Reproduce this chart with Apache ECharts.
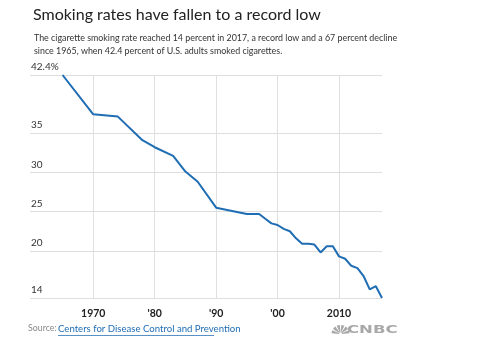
<!DOCTYPE html>
<html>
<head>
<meta charset="utf-8">
<script src="https://cdn.jsdelivr.net/npm/echarts@6/dist/echarts.min.js"></script>
<style>
  html, body { margin: 0; padding: 0; background: #fff; }
  #chart { width: 498px; height: 344px; }
</style>
</head>
<body>
<div id="chart"></div>
<script>
// Share of U.S. adults who smoke cigarettes, by survey year
const years = [1965, 1970, 1974, 1978, 1980, 1983, 1985, 1987, 1990, 1995, 1997, 1998, 1999, 2000,
               2001, 2002, 2003, 2004, 2005, 2006, 2007, 2008, 2009, 2010, 2011, 2012, 2013, 2014,
               2015, 2016, 2017];
const rates = [42.4, 37.4, 37.1, 34.1, 33.2, 32.1, 30.1, 28.8, 25.5, 24.7, 24.7, 24.1, 23.5, 23.3,
               22.8, 22.5, 21.6, 20.9, 20.9, 20.8, 19.8, 20.6, 20.6, 19.3, 19.0, 18.1, 17.8, 16.8,
               15.1, 15.5, 14.0];
const xTicks = [1970, 1980, 1990, 2000, 2010];
const xTickLabels = ['1970', "'80", "'90", "'00", '2010'];
const yTicks = [14, 20, 25, 30, 35, 42.4];
const yTickLabels = ['14', '20', '25', '30', '35', '42.4%'];

const titleText = 'Smoking rates have fallen to a record low';
const subtitleText = 'The cigarette smoking rate reached 14 percent in 2017, a record low and a 67 percent decline\nsince 1965, when 42.4 percent of U.S. adults smoked cigarettes.';

const chart = echarts.init(document.getElementById('chart'), null, { renderer: 'canvas' });
const FONT = 'Lato, "Open Sans", sans-serif';

chart.setOption({
  animation: false,
  backgroundColor: '#fff',
  title: [{
    text: titleText,
    left: 28, top: 2,
    textStyle: { fontFamily: FONT, fontSize: 16, fontWeight: 'normal', color: '#222' }
  }, {
    text: subtitleText,
    left: 29, top: 27,
    textStyle: { fontFamily: FONT, fontSize: 8.9, fontWeight: 'normal', color: '#333', lineHeight: 13 }
  }],
  grid: { left: 30, right: 116, top: 75, bottom: 46, containLabel: false },
  xAxis: {
    type: 'value',
    min: 1959.7, max: 2017,
    axisLine: { show: false },
    axisTick: { show: false, customValues: xTicks },
    splitLine: { show: true, lineStyle: { color: '#e0e0e0', width: 1 } },
    axisLabel: {
      customValues: xTicks,
      margin: 10,
      fontFamily: FONT, fontSize: 10.5, fontWeight: 'bold', color: '#222',
      formatter: v => xTickLabels[xTicks.indexOf(v)]
    }
  },
  yAxis: {
    type: 'value',
    min: 14, max: 42.4,
    axisLine: { show: false },
    axisTick: { show: false, customValues: yTicks },
    splitLine: { show: true, lineStyle: { color: '#dedede', width: 1 } },
    axisLabel: {
      customValues: yTicks,
      inside: true,
      margin: 1,
      align: 'left',
      verticalAlign: 'bottom',
      padding: [0, 0, 3, 0],
      fontFamily: FONT, fontSize: 10, color: '#333',
      formatter: v => yTickLabels[yTicks.indexOf(v)]
    }
  },
  series: [{
    type: 'line',
    data: years.map((y, i) => [y, rates[i]]),
    symbol: 'none',
    lineStyle: { color: '#1f6db3', width: 2 },
    z: 5
  }],
  graphic: [
    {
      type: 'text', left: 28, top: 324,
      style: { text: 'Source:', font: '8.8px ' + FONT, fill: '#888' }
    },
    {
      type: 'text', left: 58, top: 324,
      style: { text: 'Centers for Disease Control and Prevention', font: '9.6px ' + FONT, fill: '#1f6db3' }
    },
    {
      type: 'rect', shape: { x: 58, y: 335, width: 156, height: 0.8 },
      style: { fill: '#1f6db3' }
    },
    // peacock mark
    {
      type: 'group', x: 335, y: 325,
      children: [0, 1, 2, 3, 4, 5].map(i => ({
        type: 'sector',
        shape: {
          cx: 5.5, cy: 9, r0: 1.5, r: 9,
          startAngle: Math.PI + i * Math.PI / 6 + 0.08,
          endAngle: Math.PI + (i + 1) * Math.PI / 6 - 0.08
        },
        style: { fill: '#a8a8a8' }
      }))
    },
    {
      type: 'text', x: 347, y: 325, scaleX: 1.5,
      style: { text: 'CNBC', font: 'bold 11px "DejaVu Sans", sans-serif', fill: '#a8a8a8' }
    }
  ]
});
</script>
</body>
</html>
